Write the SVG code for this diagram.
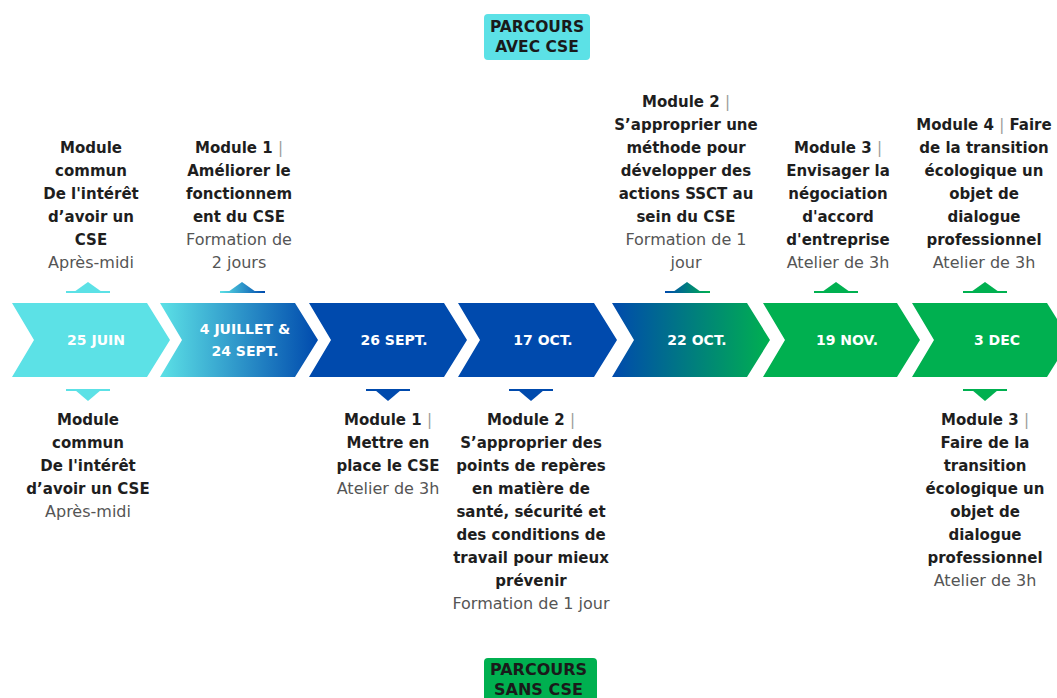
<svg xmlns="http://www.w3.org/2000/svg" width="1057" height="698" viewBox="0 0 1057 698">
<style>
.b{font-family:"DejaVu Sans",sans-serif;font-weight:bold;font-size:15px;fill:#1e1e1e;text-anchor:middle}
.r{font-family:"DejaVu Sans",sans-serif;font-weight:normal;font-size:16px;fill:#555;text-anchor:middle}
.bar{font-weight:normal;fill:#9a9a9a}
.d{font-family:"DejaVu Sans",sans-serif;font-weight:bold;font-size:14px;fill:#fff;text-anchor:middle}
.lab{font-family:"DejaVu Sans",sans-serif;font-weight:bold;fill:#1a1a1a;text-anchor:middle}
.cy{fill:#5ce1e6}.bl{fill:#004aad}.gr{fill:#00b050}
</style>
<defs>
<linearGradient id="g2" gradientUnits="userSpaceOnUse" x1="160" y1="0" x2="318" y2="0"><stop offset="0" stop-color="#5ce1e6"/><stop offset="1" stop-color="#004aad"/></linearGradient>
<linearGradient id="g5" gradientUnits="userSpaceOnUse" x1="612" y1="0" x2="770" y2="0"><stop offset="0" stop-color="#004aad"/><stop offset="1" stop-color="#00b050"/></linearGradient>
<linearGradient id="m2" gradientUnits="userSpaceOnUse" x1="220" y1="0" x2="265" y2="0"><stop offset="0" stop-color="#5ce1e6"/><stop offset="1" stop-color="#004aad"/></linearGradient>
<linearGradient id="m5" gradientUnits="userSpaceOnUse" x1="665" y1="0" x2="710" y2="0"><stop offset="0" stop-color="#004aad"/><stop offset="1" stop-color="#00b050"/></linearGradient>
</defs>
<rect width="1057" height="698" fill="#fff"/>

<g id="label-avec">
<rect x="484" y="14" width="106" height="46" rx="4" class="cy"/>
<text class="lab" font-size="15.5" x="537" y="32">PARCOURS</text>
<text class="lab" font-size="15.5" x="537" y="52">AVEC CSE</text>
</g>
<g id="label-sans">
<rect x="484" y="658" width="113" height="50" rx="4" class="gr"/>
<text class="lab" font-size="16" x="538.5" y="675">PARCOURS</text>
<text class="lab" font-size="16" x="538.5" y="695">SANS CSE</text>
</g>

<g id="step-25juin">
<polygon class="cy" points="12,303 147,303 170,340 147,377 12,377 34,340"/>
<text class="d" x="96" y="345">25 JUIN</text>
</g>
<g id="step-4juillet">
<polygon fill="url(#g2)" points="160,303 295,303 318,340 295,377 160,377 182,340"/>
<text class="d" x="245" y="334">4 JUILLET &amp;</text>
<text class="d" x="245" y="356">24 SEPT.</text>
</g>
<g id="step-26sept">
<polygon class="bl" points="309,303 444,303 467,340 444,377 309,377 331,340"/>
<text class="d" x="394" y="345">26 SEPT.</text>
</g>
<g id="step-17oct">
<polygon class="bl" points="458,303 594,303 617,340 594,377 458,377 480,340"/>
<text class="d" x="543" y="345">17 OCT.</text>
</g>
<g id="step-22oct">
<polygon fill="url(#g5)" points="612,303 747,303 770,340 747,377 612,377 634,340"/>
<text class="d" x="697" y="345">22 OCT.</text>
</g>
<g id="step-19nov">
<polygon class="gr" points="763,303 897,303 920,340 897,377 763,377 785,340"/>
<text class="d" x="847" y="345">19 NOV.</text>
</g>
<g id="step-3dec">
<polygon class="gr" points="912,303 1047,303 1070,340 1047,377 912,377 934,340"/>
<text class="d" x="997" y="345">3 DEC</text>
</g>

<g id="connectors">
<g class="cy"><rect x="66" y="291" width="44" height="2"/><polygon points="74,292 88,282 102,292"/></g>
<g fill="url(#m2)"><rect x="220" y="291" width="45" height="2"/><polygon points="228,292 242,282 256,292"/></g>
<g fill="url(#m5)"><rect x="665" y="291" width="45" height="2"/><polygon points="673,292 687,282 701,292"/></g>
<g class="gr"><rect x="814" y="291" width="44" height="2"/><polygon points="822,292 836,282 850,292"/></g>
<g class="gr"><rect x="963" y="291" width="44" height="2"/><polygon points="971,292 985,282 999,292"/></g>
<g class="cy"><rect x="66" y="389" width="44" height="2"/><polygon points="75,390 88,401 101,390"/></g>
<g class="bl"><rect x="366" y="389" width="44" height="2"/><polygon points="375,390 388,401 401,390"/></g>
<g class="bl"><rect x="509" y="389" width="44" height="2"/><polygon points="518,390 531,401 544,390"/></g>
<g class="gr"><rect x="963" y="389" width="44" height="2"/><polygon points="972,390 985,401 998,390"/></g>
</g>

<g id="top-commun">
<text class="b" x="91" y="153">Module</text>
<text class="b" x="91" y="176">commun</text>
<text class="b" x="91" y="199">De l'intérêt</text>
<text class="b" x="91" y="222">d’avoir un</text>
<text class="b" x="91" y="245">CSE</text>
<text class="r" x="91" y="268">Après-midi</text>
</g>
<g id="top-module1">
<text class="b" x="239" y="153">Module 1 <tspan class="bar">|</tspan></text>
<text class="b" x="239" y="176">Améliorer le</text>
<text class="b" x="239" y="199">fonctionnem</text>
<text class="b" x="239" y="222">ent du CSE</text>
<text class="r" x="239" y="245">Formation de</text>
<text class="r" x="239" y="268">2 jours</text>
</g>
<g id="top-module2">
<text class="b" x="686" y="107">Module 2 <tspan class="bar">|</tspan></text>
<text class="b" x="686" y="130">S’approprier une</text>
<text class="b" x="686" y="153">méthode pour</text>
<text class="b" x="686" y="176">développer des</text>
<text class="b" x="686" y="199">actions SSCT au</text>
<text class="b" x="686" y="222">sein du CSE</text>
<text class="r" x="686" y="245">Formation de 1</text>
<text class="r" x="686" y="268">jour</text>
</g>
<g id="top-module3">
<text class="b" x="838" y="153">Module 3 <tspan class="bar">|</tspan></text>
<text class="b" x="838" y="176">Envisager la</text>
<text class="b" x="838" y="199">négociation</text>
<text class="b" x="838" y="222">d'accord</text>
<text class="b" x="838" y="245">d'entreprise</text>
<text class="r" x="838" y="268">Atelier de 3h</text>
</g>
<g id="top-module4">
<text class="b" x="984" y="130">Module 4 <tspan class="bar">|</tspan> Faire</text>
<text class="b" x="984" y="153">de la transition</text>
<text class="b" x="984" y="176">écologique un</text>
<text class="b" x="984" y="199">objet de</text>
<text class="b" x="984" y="222">dialogue</text>
<text class="b" x="984" y="245">professionnel</text>
<text class="r" x="984" y="268">Atelier de 3h</text>
</g>

<g id="bottom-commun">
<text class="b" x="88" y="425">Module</text>
<text class="b" x="88" y="448">commun</text>
<text class="b" x="88" y="471">De l'intérêt</text>
<text class="b" x="88" y="494">d’avoir un CSE</text>
<text class="r" x="88" y="517">Après-midi</text>
</g>
<g id="bottom-module1">
<text class="b" x="388" y="425">Module 1 <tspan class="bar">|</tspan></text>
<text class="b" x="388" y="448">Mettre en</text>
<text class="b" x="388" y="471">place le CSE</text>
<text class="r" x="388" y="494">Atelier de 3h</text>
</g>
<g id="bottom-module2">
<text class="b" x="531" y="425">Module 2 <tspan class="bar">|</tspan></text>
<text class="b" x="531" y="448">S’approprier des</text>
<text class="b" x="531" y="471">points de repères</text>
<text class="b" x="531" y="494">en matière de</text>
<text class="b" x="531" y="517">santé, sécurité et</text>
<text class="b" x="531" y="540">des conditions de</text>
<text class="b" x="531" y="563">travail pour mieux</text>
<text class="b" x="531" y="586">prévenir</text>
<text class="r" x="531" y="609">Formation de 1 jour</text>
</g>
<g id="bottom-module3">
<text class="b" x="985" y="425">Module 3 <tspan class="bar">|</tspan></text>
<text class="b" x="985" y="448">Faire de la</text>
<text class="b" x="985" y="471">transition</text>
<text class="b" x="985" y="494">écologique un</text>
<text class="b" x="985" y="517">objet de</text>
<text class="b" x="985" y="540">dialogue</text>
<text class="b" x="985" y="563">professionnel</text>
<text class="r" x="985" y="586">Atelier de 3h</text>
</g>
</svg>
